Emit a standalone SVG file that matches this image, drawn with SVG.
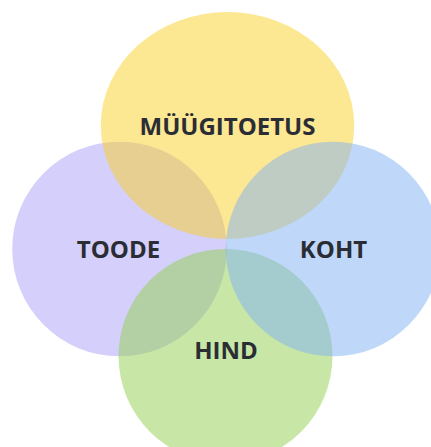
<svg xmlns="http://www.w3.org/2000/svg" width="431" height="447" viewBox="0 0 431 447">
<style>
.c{opacity:0.5}
.t{font-family:"Open Sans","Liberation Sans",sans-serif;font-weight:700;font-size:24px;fill:#2a2d34;text-anchor:middle}
</style>
<rect width="431" height="447" fill="#ffffff"/>
<g id="toode"><circle class="c" cx="119.5" cy="249" r="107.3" fill="#ab9ff7"/></g>
<g id="myygitoetus"><ellipse class="c" cx="227.5" cy="125.5" rx="126.7" ry="113.5" fill="#f9cf27"/></g>
<g id="hind"><circle class="c" cx="225.5" cy="356" r="107" fill="#91cf4d"/></g>
<g id="koht"><circle class="c" cx="333" cy="249" r="107.3" fill="#7fb1f5"/></g>
<g id="connectors"></g>
<g id="labels">
<text class="t" x="227.5" y="135">MÜÜGITOETUS</text>
<text class="t" x="118.5" y="258">TOODE</text>
<text class="t" x="333.5" y="258">KOHT</text>
<text class="t" x="226" y="359">HIND</text>
</g>
</svg>
